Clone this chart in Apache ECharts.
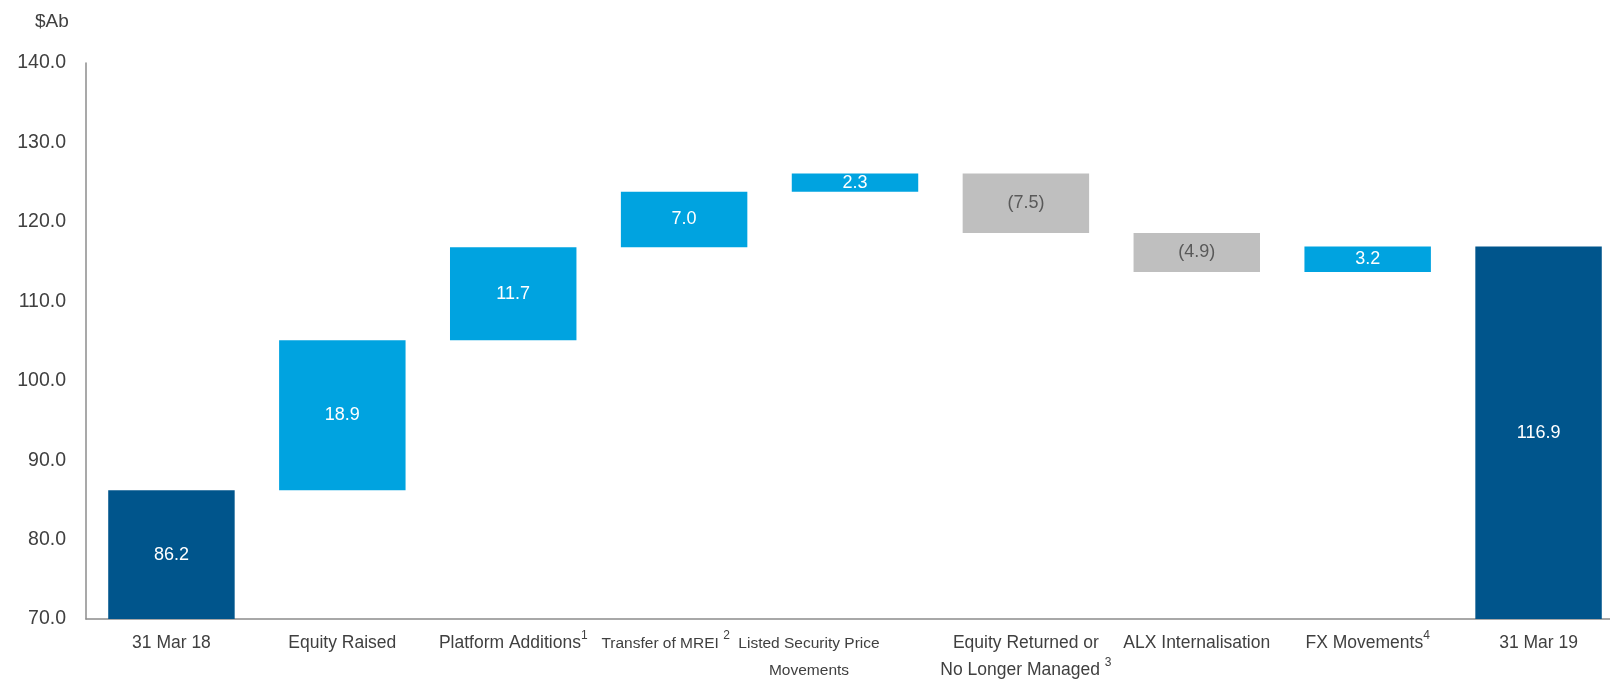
<!DOCTYPE html>
<html>
<head>
<meta charset="utf-8">
<title>$Ab waterfall, 31 Mar 18 to 31 Mar 19</title>
<script src="https://cdn.jsdelivr.net/npm/echarts@6/dist/echarts.min.js"></script>
<style>
  html, body { margin: 0; padding: 0; background: #ffffff; }
  #chart { width: 1610px; height: 679px; }
</style>
</head>
<body>
<div id="chart"></div>
<script>
// Category labels; {sup|n} marks a footnote number drawn raised
const categories = [
  '31 Mar 18',
  'Equity Raised',
  'Platform Additions{sup|1}',
  'Transfer of MREI {sup|2}',
  'Listed Security Price\nMovements',
  'Equity Returned or\nNo Longer Managed {sup|3}',
  'ALX Internalisation',
  'FX Movements{sup|4}',
  '31 Mar 19'
];

// Opening and closing totals ($Ab)
const openingTotal = 86.2;
const closingTotal = 116.9;

// Movements between the two totals ($Ab)
const movements = [18.9, 11.7, 7.0, 2.3, -7.5, -4.9, 3.2];

// Value axis ticks
const yMin = 70;
const yMax = 140;
const yStep = 10;

// Build the floating segments: [categoryIndex, low, high, kind, value]
const rows = [];
rows.push([0, yMin, openingTotal, 'total', openingTotal]);
let running = openingTotal;
movements.forEach((m, i) => {
  const next = Math.round((running + m) * 10) / 10;
  rows.push([i + 1, Math.min(running, next), Math.max(running, next), m >= 0 ? 'up' : 'down', m]);
  running = next;
});
rows.push([categories.length - 1, yMin, closingTotal, 'total', closingTotal]);

const fillFor = { total: '#00558c', up: '#00a3e0', down: '#bfbfbf' };
const textFor = { total: '#ffffff', up: '#ffffff', down: '#595959' };

const fontStack = "'Liberation Sans', Arial, sans-serif";

const formatValue = v => v < 0 ? '(' + Math.abs(v).toFixed(1) + ')' : v.toFixed(1);

// Two labels are set smaller and sit a little left of their tick
const labelTweak = {
  3: { fontSize: 15.5, padding: [0, 37, 0, 0] },
  4: { fontSize: 15.5, padding: [0, 92, 0, 0] }
};
const axisData = categories.map((c, i) =>
  labelTweak[i] ? { value: c, textStyle: labelTweak[i] } : c
);

const chart = echarts.init(document.getElementById('chart'), null, { renderer: 'canvas' });

chart.setOption({
  animation: false,
  backgroundColor: '#ffffff',
  title: {
    text: '$Ab',
    left: 30,
    top: 7,
    textStyle: { fontFamily: fontStack, fontSize: 19, fontWeight: 'normal', color: '#404040' }
  },
  // the plot runs past the right edge so the last column sits flush with it
  grid: { left: 86, top: 63, width: 1538, bottom: 60, containLabel: false, outerBoundsMode: 'none' },
  xAxis: {
    type: 'category',
    data: axisData,
    axisLine: { show: true, lineStyle: { color: '#8c8c8c', width: 1.5 } },
    axisTick: { show: false },
    splitLine: { show: false },
    axisLabel: {
      interval: 0,
      margin: 11,
      color: '#404040',
      fontFamily: fontStack,
      fontSize: 17.5,
      lineHeight: 27,
      rich: {
        sup: { fontFamily: fontStack, fontSize: 12, lineHeight: 16, verticalAlign: 'top', color: '#404040' }
      }
    }
  },
  yAxis: {
    type: 'value',
    min: yMin,
    max: yMax,
    interval: yStep,
    axisLine: { show: true, lineStyle: { color: '#8c8c8c', width: 1.5 } },
    axisTick: { show: false },
    splitLine: { show: false },
    axisLabel: {
      margin: 20,
      color: '#404040',
      fontFamily: fontStack,
      fontSize: 19.5,
      formatter: v => v.toFixed(1)
    }
  },
  series: [{
    type: 'custom',
    data: rows,
    encode: { x: 0, y: [1, 2] },
    renderItem: function (params, api) {
      const row = rows[params.dataIndex];
      const idx = api.value(0);
      const lowPt = api.coord([idx, api.value(1)]);
      const highPt = api.coord([idx, api.value(2)]);
      const w = api.size([1, 0])[0] * 0.74;
      const x = lowPt[0] - w / 2;
      const kind = row[3];
      return {
        type: 'group',
        children: [
          {
            type: 'rect',
            shape: { x: x, y: highPt[1], width: w, height: lowPt[1] - highPt[1] },
            style: { fill: fillFor[kind] }
          },
          {
            type: 'text',
            style: {
              text: formatValue(row[4]),
              x: lowPt[0],
              y: (lowPt[1] + highPt[1]) / 2,
              align: 'center',
              verticalAlign: 'middle',
              fill: textFor[kind],
              fontFamily: fontStack,
              fontSize: 18
            }
          }
        ]
      };
    }
  }]
});
</script>
</body>
</html>
